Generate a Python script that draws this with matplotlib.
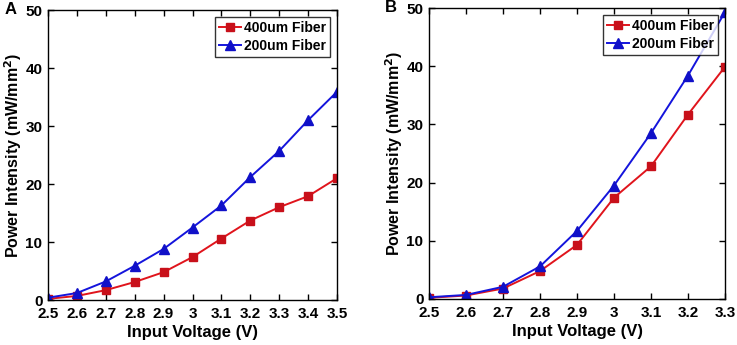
import matplotlib
matplotlib.use("Agg")
import matplotlib.pyplot as plt

plt.rcParams['font.family'] = ['Liberation Sans', 'DejaVu Sans']
plt.rcParams['font.weight'] = 'bold'

volt_a = [2.5, 2.6, 2.7, 2.8, 2.9, 3.0, 3.1, 3.2, 3.3, 3.4, 3.5]
a_400 = [0.2, 0.7, 1.7, 3.1, 4.8, 7.4, 10.6, 13.7, 16.0, 17.9, 21.0]
a_200 = [0.4, 1.2, 3.2, 5.9, 8.8, 12.5, 16.3, 21.2, 25.7, 31.0, 35.9]

volt_b = [2.5, 2.6, 2.7, 2.8, 2.9, 3.0, 3.1, 3.2, 3.3]
b_400 = [0.2, 0.6, 1.8, 4.8, 9.3, 17.4, 22.8, 31.7, 39.9]
b_200 = [0.3, 0.7, 2.1, 5.6, 11.7, 19.5, 28.5, 38.4, 49.3]

xticks_a = [2.5, 2.6, 2.7, 2.8, 2.9, 3.0, 3.1, 3.2, 3.3, 3.4, 3.5]
xlabels_a = ['2.5', '2.6', '2.7', '2.8', '2.9', '3', '3.1', '3.2', '3.3', '3.4', '3.5']
xticks_b = [2.5, 2.6, 2.7, 2.8, 2.9, 3.0, 3.1, 3.2, 3.3]
xlabels_b = ['2.5', '2.6', '2.7', '2.8', '2.9', '3', '3.1', '3.2', '3.3']
yticks = [0, 10, 20, 30, 40, 50]

RED = '#e0141c'
RED_M = '#c8101a'
BLUE = '#1414dc'
BLUE_M = '#1010c8'

fig = plt.figure(figsize=(7.37, 3.45), dpi=100)
W, H = 737, 345
ax_a = fig.add_axes([48 / W, 1 - 300 / H, (337 - 48) / W, (300 - 10) / H])
ax_b = fig.add_axes([429 / W, 1 - 299 / H, (725 - 429) / W, (299 - 8) / H])

def draw(ax, x, y4, y2, xt, xl, letter):
    ax.plot(x, y4, '-', color=RED, lw=1.4, marker='s', ms=6, mfc=RED_M, mec=RED_M, label='400um Fiber')
    ax.plot(x, y2, '-', color=BLUE, lw=1.4, marker='^', ms=7, mfc=BLUE_M, mec=BLUE_M, label='200um Fiber')
    ax.set_xlim(xt[0], xt[-1])
    ax.set_ylim(0, 50)
    ax.set_xticks(xt)
    ax.set_xticklabels(xl)
    ax.set_yticks(yticks)
    ax.tick_params(direction='in', top=True, right=True, labelsize=11, length=4, width=1)
    ax.tick_params(axis='x', pad=5)
    ax.tick_params(axis='y', pad=4)
    for lab in ax.get_xticklabels() + ax.get_yticklabels():
        lab.set_fontweight('bold')
    for s in ax.spines.values():
        s.set_linewidth(1.0)
    ax.set_xlabel('Input Voltage (V)', fontsize=12, fontweight='bold', labelpad=3)
    ax.set_ylabel('Power Intensity (mW/mm$^\\mathbf{2}$)', fontsize=11.5, fontweight='bold', labelpad=1)
    leg = ax.legend(loc='upper right', fontsize=10, frameon=True, fancybox=False,
                    edgecolor='black', handlelength=1.6, handletextpad=0.2,
                    borderpad=0.3, labelspacing=0.3, borderaxespad=0.5)
    leg.get_frame().set_linewidth(1.0)
    for t in leg.get_texts():
        t.set_fontweight('bold')
    ax.text(-0.11, 1.0, letter, transform=ax.transAxes, fontsize=12, fontweight='bold',
            ha='right', va='center')

draw(ax_a, volt_a, a_400, a_200, xticks_a, xlabels_a, 'A')
draw(ax_b, volt_b, b_400, b_200, xticks_b, xlabels_b, 'B')

fig.savefig('out.png', dpi=100)
